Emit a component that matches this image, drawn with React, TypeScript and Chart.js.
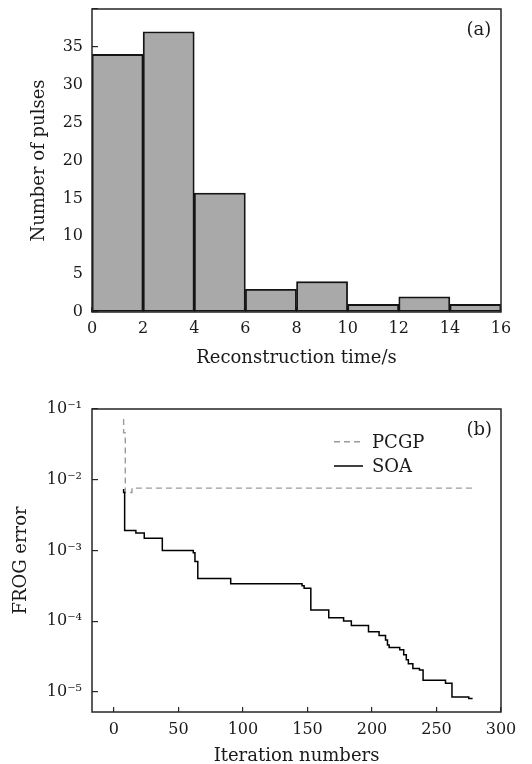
import React, { useEffect, useRef } from 'react';
import { Chart, registerables } from 'chart.js';

Chart.register(...registerables);

// ---------- Data: histogram (a) ----------
const binEdges = [0, 2, 4, 6, 8, 10, 12, 14, 16];
const pulseCounts = [34, 37, 15.7, 3, 4, 1, 2, 1];
const histXTicks = [0, 2, 4, 6, 8, 10, 12, 14, 16];
const histYTicks = [0, 5, 10, 15, 20, 25, 30, 35, 40];

// ---------- Data: convergence (b) ----------
const pcgpIter = [7.5, 7.5, 8.8, 14, 278];
const pcgpError = [0.072, 0.046, 0.0066, 0.0076, 0.0076];
const soaIter = [
  7.5, 7.5, 8.3, 17, 23.5, 37.5, 61.5, 62.8, 65, 90.5, 145.8, 147.4, 152.6, 166.5,
  178, 184, 197.3, 205.5, 210.5, 212, 213.3, 221.5, 224.6, 226.6, 228.2, 231.7,
  236.8, 239.6, 257, 262, 275, 278,
];
const soaError = [
  7.4e-3, 6.6e-3, 1.92e-3, 1.76e-3, 1.49e-3, 1.0e-3, 9.3e-4, 7.0e-4, 4.0e-4, 3.37e-4,
  3.16e-4, 2.93e-4, 1.44e-4, 1.12e-4, 1.01e-4, 8.7e-5, 7.1e-5, 6.3e-5, 5.4e-5, 4.6e-5,
  4.25e-5, 3.95e-5, 3.35e-5, 2.85e-5, 2.5e-5, 2.15e-5, 2.04e-5, 1.46e-5, 1.33e-5,
  8.5e-6, 8.1e-6, 8.1e-6,
];
const iterTicks = [0, 50, 100, 150, 200, 250, 300];
const errorTicks = [1e-5, 1e-4, 1e-3, 1e-2, 1e-1];
const errorTickLabels = ['10⁻⁵', '10⁻⁴', '10⁻³', '10⁻²', '10⁻¹'];

const FONT = "'DejaVu Serif', 'Liberation Serif', serif";
const INK = '#1a1a1a';

Chart.defaults.font.family = FONT;
Chart.defaults.color = INK;

const framePlugin = {
  id: 'frame',
  afterDatasetsDraw(chart: any) {
    const { ctx, chartArea } = chart;
    ctx.save();
    ctx.strokeStyle = '#262626';
    ctx.lineWidth = 1.5;
    ctx.strokeRect(chartArea.left, chartArea.top, chartArea.right - chartArea.left, chartArea.bottom - chartArea.top);
    ctx.restore();
  },
};

function annotationPlugin(tag: string, tagX: number, tagY: number, legend: any[] | null) {
  return {
    id: 'annot',
    afterDraw(chart: any) {
      const { ctx } = chart;
      ctx.save();
      ctx.fillStyle = INK;
      ctx.font = `18px ${FONT}`;
      ctx.textBaseline = 'alphabetic';
      ctx.textAlign = 'left';
      ctx.fillText(tag, tagX, tagY);
      if (legend) {
        legend.forEach((item) => {
          ctx.save();
          ctx.strokeStyle = item.color;
          ctx.lineWidth = item.width;
          ctx.setLineDash(item.dash);
          ctx.beginPath();
          ctx.moveTo(item.x0, item.ly);
          ctx.lineTo(item.x1, item.ly);
          ctx.stroke();
          ctx.restore();
          ctx.fillText(item.text, item.tx, item.ty);
        });
      }
      ctx.restore();
    },
  };
}

const fixHeight = (h: number) => (s: any) => {
  s.height = h;
  s.paddingTop = 0;
  s.paddingBottom = 0;
  s.paddingLeft = 0;
  s.paddingRight = 0;
};
const fixWidth = (w: number) => (s: any) => {
  s.width = w;
  s.paddingTop = 0;
  s.paddingBottom = 0;
  s.paddingLeft = 0;
  s.paddingRight = 0;
};

export default function App() {
  const topRef = useRef<HTMLCanvasElement>(null);
  const botRef = useRef<HTMLCanvasElement>(null);

  useEffect(() => {
    document.body.style.margin = '0';
    const histData = pulseCounts.map((c, i) => ({ x: (binEdges[i] + binEdges[i + 1]) / 2, y: c }));

    const top = new Chart(topRef.current!, {
      type: 'bar',
      data: {
        datasets: [
          {
            data: histData,
            backgroundColor: '#a9a9a9',
            borderColor: '#141414',
            borderWidth: 1.8,
            borderSkipped: false,
            barPercentage: 1,
            categoryPercentage: 1,
          },
        ],
      },
      options: {
        responsive: false,
        animation: false,
        devicePixelRatio: 1,
        layout: { padding: { left: 0, right: 31, top: 9, bottom: 0 } },
        plugins: { legend: { display: false }, tooltip: { enabled: false } },
        scales: {
          x: {
            type: 'linear',
            min: 0,
            max: 16,
            offset: false,
            afterBuildTicks: (s: any) => {
              s.ticks = histXTicks.map((v) => ({ value: v }));
            },
            afterFit: fixHeight(68),
            grid: { offset: false, drawOnChartArea: false, drawTicks: true, tickLength: -5, color: '#262626', lineWidth: 1.2 },
            border: { display: false },
            ticks: { padding: 12, font: { size: 16 }, color: INK, maxRotation: 0 },
            title: { display: true, text: 'Reconstruction time/s', font: { size: 18 }, color: INK, padding: { top: 0, bottom: 11 } },
          },
          y: {
            type: 'linear',
            min: 0,
            max: 40,
            afterBuildTicks: (s: any) => {
              s.ticks = histYTicks.map((v) => ({ value: v }));
            },
            afterFit: fixWidth(92),
            grid: { drawOnChartArea: false, drawTicks: true, tickLength: -6, color: '#262626', lineWidth: 1.2 },
            border: { display: false },
            ticks: { padding: 15, font: { size: 16 }, color: INK, callback: (v: any) => (v === 40 ? '' : String(v)) },
            title: { display: true, text: 'Number of pulses', font: { size: 18 }, color: INK, padding: { top: 29, bottom: 0 } },
          },
        },
      },
      plugins: [framePlugin, annotationPlugin('(a)', 466.5, 34.5, null)],
    } as any);

    const bot = new Chart(botRef.current!, {
      type: 'line',
      data: {
        datasets: [
          {
            label: 'SOA',
            data: soaIter.map((x, i) => ({ x, y: soaError[i] })),
            borderColor: '#000',
            borderWidth: 1.5,
            pointRadius: 0,
            stepped: true,
            fill: false,
          },
          {
            label: 'PCGP',
            data: pcgpIter.map((x, i) => ({ x, y: pcgpError[i] })),
            borderColor: '#9a9a9a',
            borderWidth: 1.4,
            borderDash: [6, 4],
            pointRadius: 0,
            stepped: true,
            fill: false,
          },
        ],
      },
      options: {
        responsive: false,
        animation: false,
        devicePixelRatio: 1,
        layout: { padding: { left: 0, right: 31, top: 29, bottom: 0 } },
        plugins: { legend: { display: false }, tooltip: { enabled: false } },
        scales: {
          x: {
            type: 'linear',
            min: -17,
            max: 300,
            afterBuildTicks: (s: any) => {
              s.ticks = iterTicks.map((v) => ({ value: v }));
            },
            afterFit: fixHeight(52),
            grid: { drawOnChartArea: false, drawTicks: true, tickLength: -5, color: '#262626', lineWidth: 1.2 },
            border: { display: false },
            ticks: { padding: 13.5, font: { size: 16 }, color: INK, maxRotation: 0 },
            title: { display: true, text: 'Iteration numbers', font: { size: 18, lineHeight: 0.8 }, color: INK, padding: { top: 0, bottom: 0 } },
          },
          y: {
            type: 'logarithmic',
            min: 5.2e-6,
            max: 0.1,
            afterBuildTicks: (s: any) => {
              s.ticks = errorTicks.map((v) => ({ value: v }));
            },
            afterFit: fixWidth(92),
            grid: { drawOnChartArea: false, drawTicks: true, tickLength: -6, color: '#262626', lineWidth: 1.2 },
            border: { display: false },
            ticks: { padding: 16, font: { size: 16 }, color: INK, callback: (_v: any, i: number) => errorTickLabels[i] },
            title: { display: true, text: 'FROG error', font: { size: 18 }, color: INK, padding: { top: 10.7, bottom: 0 } },
          },
        },
      },
      plugins: [
        framePlugin,
        annotationPlugin('(b)', 466.5, 55, [
          { text: 'PCGP', color: '#9a9a9a', width: 1.4, dash: [6, 4], x0: 334, x1: 362, ly: 61.7, tx: 372, ty: 68.3 },
          { text: 'SOA', color: '#000', width: 1.5, dash: [], x0: 334, x1: 363, ly: 86, tx: 372, ty: 91.7 },
        ]),
      ],
    } as any);

    return () => {
      top.destroy();
      bot.destroy();
    };
  }, []);

  return (
    <div style={{ position: 'absolute', left: 0, top: 0, width: 532, height: 764, background: '#fff' }}>
      <canvas ref={topRef} width={532} height={380} style={{ position: 'absolute', left: 0, top: 0 }} />
      <canvas ref={botRef} width={532} height={384} style={{ position: 'absolute', left: 0, top: 380 }} />
    </div>
  );
}
